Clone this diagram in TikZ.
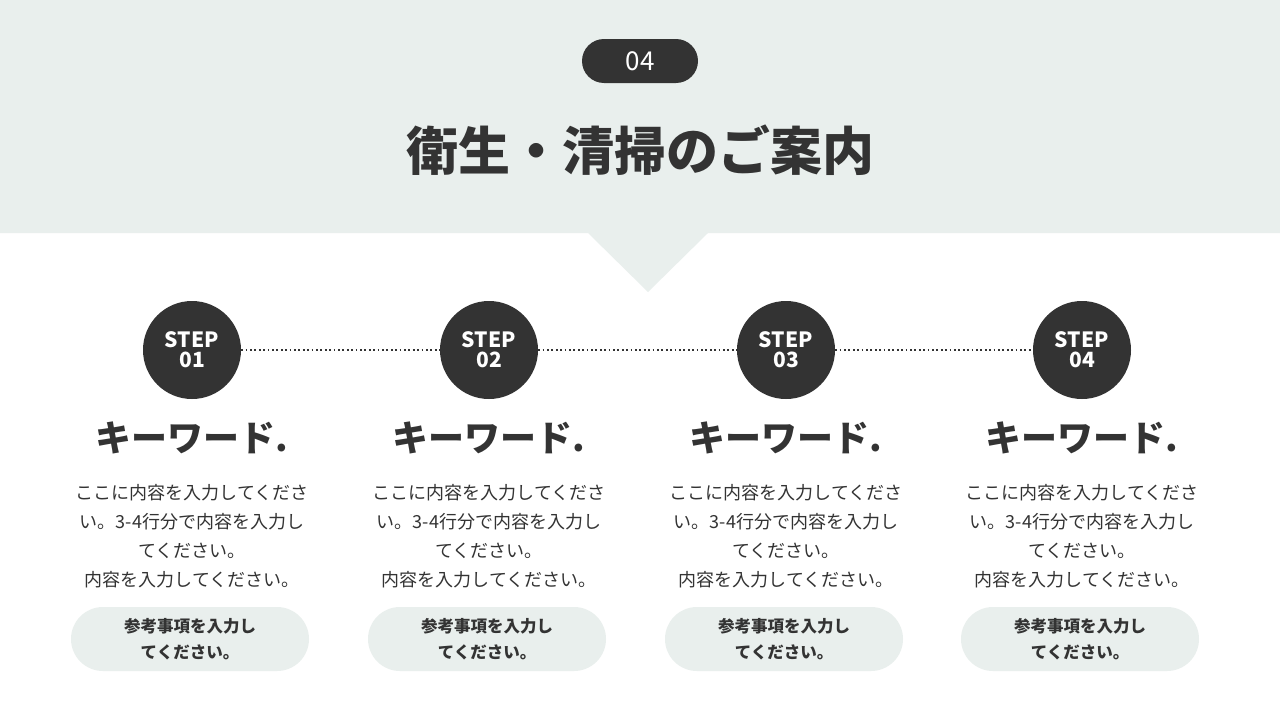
\documentclass[tikz,border=0pt]{standalone}
\usepackage{fontspec}
\setmainfont{Noto Sans CJK JP}
\definecolor{band}{HTML}{E9EFED}
\definecolor{dark}{HTML}{333333}
\begin{document}
\begin{tikzpicture}[x=1pt,y=-1pt,
  stepc/.style={circle,fill=dark,minimum size=98pt,inner sep=0pt,text=white,font=\bfseries\fontsize{21}{24}\selectfont,align=center},
  kw/.style={text=dark,font=\bfseries\fontsize{36}{40}\selectfont},
  body/.style={text=dark,font=\fontsize{18}{29}\selectfont,align=center},
  pill/.style={rounded corners=32pt,fill=band,minimum width=238pt,minimum height=64pt,text=dark,font=\bfseries\fontsize{16.5}{26}\selectfont,align=center}]
\useasboundingbox (0,0) rectangle (1280,720);
\fill[white] (0,0) rectangle (1280,720);
\fill[band] (0,0) -- (1280,0) -- (1280,233) -- (708,233) -- (648,292) -- (588,233) -- (0,233) -- cycle;
\node[fill=dark,rounded corners=22pt,minimum width=116pt,minimum height=44pt,text=white,font=\fontsize{26}{28}\selectfont] (num) at (640,61) {04};
\node[text=dark,font=\bfseries\fontsize{52}{56}\selectfont] (title) at (640,150) {衛生・清掃のご案内};
\foreach \i/\x in {1/192,2/489,3/786,4/1082}{
  \node[stepc] (s\i) at (\x,350) {STEP\\[-4pt]0\i};
  \node[kw] (k\i) at (\x,438) {キーワード.};
  \node[body] (b\i) at (\x,536) {ここに内容を入力してくださ\\い。3-4行分で内容を入力し\\てください。\\内容を入力してください。};
  \node[pill] (p\i) at (\x-2,639) {参考事項を入力し\\てください。};
}
\foreach \a/\b in {1/2,2/3,3/4}{
  \draw[dark,line width=1.8pt,dash pattern=on 1.8pt off 2.6pt] (s\a.east) -- (s\b.west);
}
\end{tikzpicture}
\end{document}
